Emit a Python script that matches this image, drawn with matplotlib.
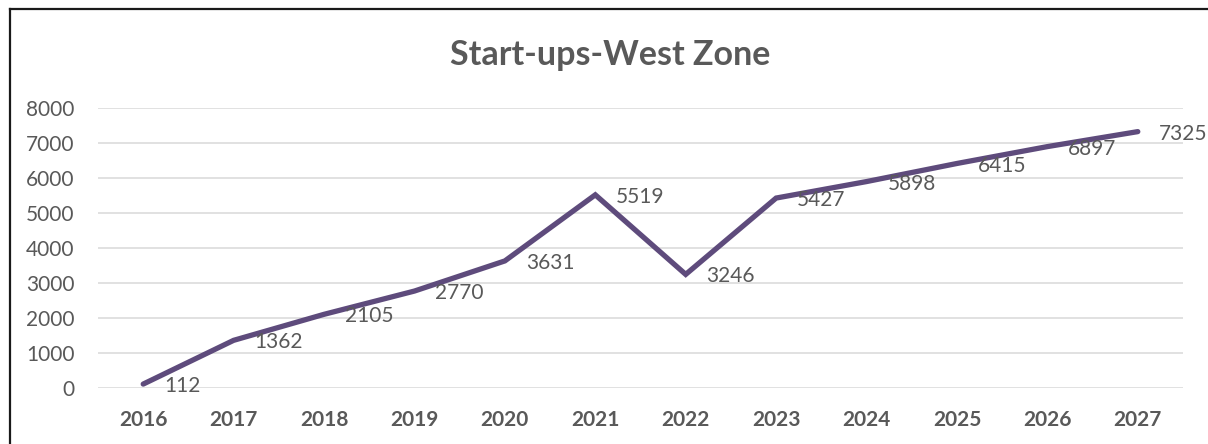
import matplotlib
matplotlib.use("Agg")
import matplotlib.pyplot as plt
from matplotlib.lines import Line2D

years = ["2016", "2017", "2018", "2019", "2020", "2021", "2022", "2023", "2024", "2025", "2026", "2027"]
startups = [112, 1362, 2105, 2770, 3631, 5519, 3246, 5427, 5898, 6415, 6897, 7325]
yticks = [0, 1000, 2000, 3000, 4000, 5000, 6000, 7000, 8000]

plt.rcParams['font.family'] = ['Lato', 'DejaVu Sans']
txt = '#595959'

fig = plt.figure(figsize=(12.08, 4.44), dpi=100)
ax = fig.add_axes([98/1208, (444-388)/444, (1183-98)/1208, (388-108)/444])

x = list(range(len(years)))
ax.plot(x, startups, color='#5E4B7C', lw=3.8, solid_capstyle='round', solid_joinstyle='miter', zorder=3)
for xi, v in zip(x, startups):
    ax.annotate(str(v), (xi, v), xytext=(15, -1.5), textcoords='offset points',
                ha='left', va='center', fontsize=15, color=txt, zorder=4)

ax.set_xlim(-0.5, len(years) - 0.5)
ax.set_ylim(0, 8000)
ax.set_yticks(yticks)
ax.set_yticklabels([str(t) for t in yticks], fontsize=15, color=txt)
ax.set_xticks(x)
ax.set_xticklabels(years, fontsize=15, color=txt, fontweight='bold')
ax.tick_params(axis='y', length=0, pad=17)
ax.tick_params(axis='x', length=0, pad=15.5)
ax.grid(axis='y', color='#D9D9D9', lw=1.1)
ax.set_axisbelow(True)
for s in ax.spines.values():
    s.set_visible(False)

fig.text(610/1208, 1 - 55/444, "Start-ups-West Zone", ha='center', va='center',
         fontsize=24.5, fontweight='bold', color=txt)

# chart border (top and left visible)
fig.add_artist(Line2D([10/1208, 10/1208], [0, 1 - 9.5/444], transform=fig.transFigure, color='#1a1a1a', lw=1.6))
fig.add_artist(Line2D([10/1208, 1], [1 - 9.5/444, 1 - 9.5/444], transform=fig.transFigure, color='#1a1a1a', lw=1.6))

fig.savefig("out.png", dpi=100)
